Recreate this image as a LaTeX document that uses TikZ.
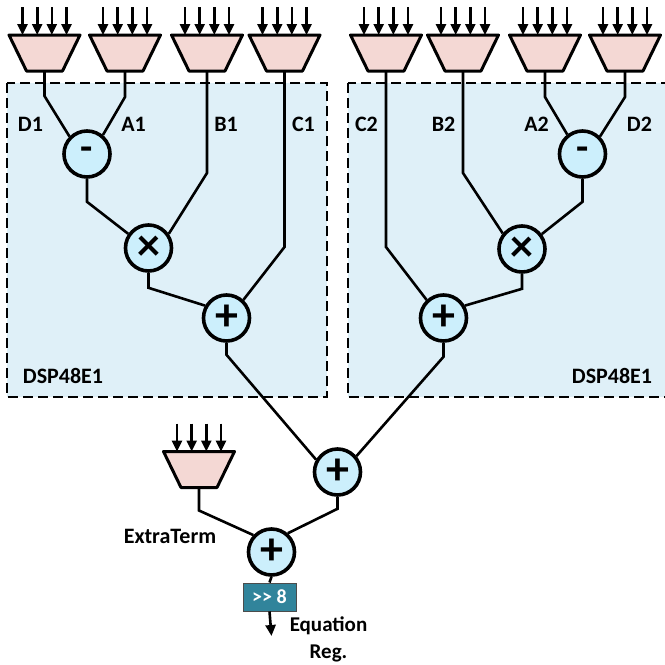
\documentclass[tikz,border=0pt]{standalone}
\usepackage{fontspec}
\setmainfont{Carlito}
\usepackage{tikz}
\usetikzlibrary{arrows.meta}
\definecolor{muxpink}{HTML}{F4D8D4}
\definecolor{dspblue}{HTML}{DFF0F8}
\definecolor{opblue}{HTML}{CCEFFC}
\definecolor{shiftteal}{HTML}{31849B}
\newcommand*{\muxnode}[2]{%
  \node[muxbox] (#1) at (#2) {};
  \draw[muxline] (#1.north west) -- (#1.north east)
    -- ([xshift=-17.5pt]#1.south east) -- ([xshift=17.5pt]#1.south west) -- cycle;
  \foreach \dx in {-22,-7.3,7.3,22}
    \draw[inarrow] ([xshift=\dx pt, yshift=28pt]#1.north) -- ([xshift=\dx pt]#1.north);%
}

\begin{document}
\begin{tikzpicture}[x=1pt, y=-1pt,
  muxbox/.style={rectangle, minimum width=71pt, minimum height=36pt,
    inner sep=0pt, outer sep=0pt},
  muxline/.style={draw, line width=3pt, fill=muxpink, line join=round},
  op/.style={circle, draw, line width=3.6pt, fill=opblue, minimum size=46pt,
    inner sep=0pt, font=\fontsize{46}{46}\selectfont\bfseries},
  wire/.style={line width=2.6pt},
  inarrow/.style={line width=2.6pt, -{Triangle[length=11pt,width=10pt]}},
  lbl/.style={font=\fontsize{22}{27}\selectfont\bfseries},
  dspbox/.style={draw, line width=2.8pt, dash pattern=on 10pt off 5pt, fill=dspblue}]

\useasboundingbox (0,0) rectangle (665,665);

% DSP blocks
\draw[dspbox] (7,83) rectangle (327,397);
\draw[dspbox] (348,83) rectangle (668,397);

% input muxes
\muxnode{muxD1}{44.5,53}
\muxnode{muxA1}{125,53}
\muxnode{muxB1}{207,53}
\muxnode{muxC1}{284.5,53}
\muxnode{muxC2}{386,53}
\muxnode{muxB2}{463,53}
\muxnode{muxA2}{545,53}
\muxnode{muxD2}{625,53}
\muxnode{muxX}{199,469.5}

% operators
\node[op, font=\fontsize{40}{40}\selectfont\bfseries] (sub1) at (87,154) {-};
\node[op] (mul1) at (148.5,248) {×};
\node[op] (add1) at (226.5,318) {+};
\node[op, font=\fontsize{40}{40}\selectfont\bfseries] (sub2) at (582.5,154) {-};
\node[op] (mul2) at (522,249) {×};
\node[op] (add2) at (443.5,318) {+};
\node[op] (add3) at (337.5,472) {+};
\node[op] (add4) at (271.5,552) {+};

\node[draw=black!70, line width=1pt, fill=shiftteal, text=white,
  minimum width=53pt, minimum height=28pt, inner sep=0pt,
  font=\fontsize{20}{20}\selectfont\bfseries] (shift) at (269.5,597) {{>}{>} 8};
\coordinate (out) at (271.5,636);

% wires, first block
\draw[wire] (muxD1.south) -- ++(0,25) -- (sub1.135);
\draw[wire] (muxA1.south) -- ++(0,26) -- (sub1.50);
\draw[wire] (sub1.south) -- ++(0,23) -- (mul1.145);
\draw[wire] (muxB1.south) -- ++(0,102) -- (mul1.35);
\draw[wire] (mul1.south) -- ++(0,15) -- (add1.150);
\draw[wire] (muxC1.south) -- ++(0,176) -- (add1.47);
\draw[wire] (add1.south) -- ++(0,12) -- (add3.150);

% wires, second block
\draw[wire] (muxA2.south) -- ++(0,26) -- (sub2.128);
\draw[wire] (muxD2.south) -- ++(0,26) -- (sub2.45);
\draw[wire] (sub2.south) -- ++(0,23) -- (mul2.37);
\draw[wire] (muxB2.south) -- ++(0,102) -- (mul2.141);
\draw[wire] (mul2.south) -- ++(0,15) -- (add2.30);
\draw[wire] (muxC2.south) -- ++(0,176) -- (add2.133);
\draw[wire] (add2.south) -- ++(0,14) -- (add3.40);

% final sum
\draw[wire] (add3.south) -- ++(0,12) -- (add4.49);
\draw[wire] (muxX.south) -- ++(0,23) -- (add4.137);
\draw[wire] (add4.south) -- (shift.north);
\draw[inarrow] (shift.south) -- (out);

% labels
\node[lbl] at (30.5,124) {D1};
\node[lbl] at (133.5,124) {A1};
\node[lbl] at (226,124) {B1};
\node[lbl] at (303.5,124) {C1};
\node[lbl] at (366.5,124) {C2};
\node[lbl] at (443.5,124) {B2};
\node[lbl] at (536.5,124) {A2};
\node[lbl] at (639.5,124) {D2};
\node[lbl] at (63,376) {DSP48E1};
\node[lbl] at (612,376) {DSP48E1};
\node[lbl] at (170,536) {ExtraTerm};
\node[lbl, font=\fontsize{21}{27}\selectfont\bfseries, align=center, inner sep=0pt]
  at (328.5,639) {Equation\\Reg.};

\end{tikzpicture}
\end{document}
